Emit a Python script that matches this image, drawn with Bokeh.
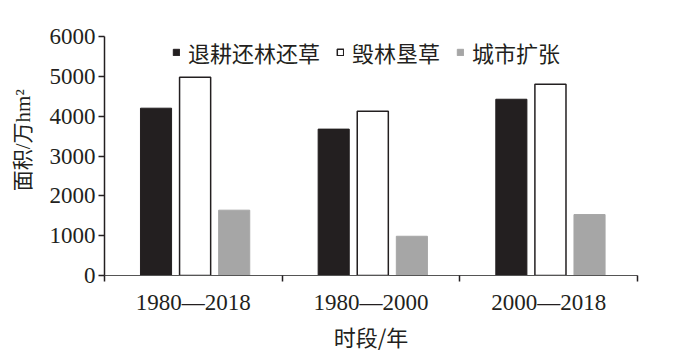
import numpy as np
from bokeh.plotting import figure
from bokeh.models import (ColumnDataSource, Range1d, FixedTicker, Legend, LegendItem)
from bokeh.transform import dodge
from bokeh.embed import file_html
from bokeh.resources import INLINE

# ---- data ----
periods = ["1980\u20142018", "1980\u20142000", "2000\u20142018"]
s_tuigeng = [4200, 3675, 4425]     # 退耕还林还草
s_huilin = [4980, 4125, 4800]      # 毁林垦草
s_chengshi = [1640, 985, 1530]     # 城市扩张
series_names = ["退耕还林还草", "毁林垦草", "城市扩张"]
y_ticks = [0, 1000, 2000, 3000, 4000, 5000, 6000]

x_pos = np.arange(len(periods)) + 0.5
src = ColumnDataSource(dict(x=x_pos, a=s_tuigeng, b=s_huilin, c=s_chengshi))

SERIF = "Liberation Serif, Noto Sans CJK SC"
CJK = "Noto Sans CJK SC"
INK = "#231f20"

W, H = 672, 358
FL, FR, FT, FB = 104, 637, 36, 275
p = figure(width=W, height=H, output_backend="svg", toolbar_location=None,
           x_range=Range1d(0, 3), y_range=Range1d(0, 6000),
           min_border_left=FL, min_border_right=W - FR,
           min_border_top=FT, min_border_bottom=H - FB)
p.outline_line_color = None
p.grid.visible = False
p.background_fill_color = "white"
p.border_fill_color = "white"

bw = 0.175
r1 = p.vbar(x=dodge("x", -0.21, range=p.x_range), top="a", width=bw, source=src,
            fill_color=INK, line_color=INK, line_width=1)
r2 = p.vbar(x=dodge("x", 0.01, range=p.x_range), top="b", width=bw, source=src,
            fill_color="white", line_color=INK, line_width=1.5)
r3 = p.vbar(x=dodge("x", 0.23, range=p.x_range), top="c", width=bw, source=src,
            fill_color="#a6a6a6", line_color="#a6a6a6", line_width=1)

# y axis
ya = p.yaxis[0]
ya.ticker = FixedTicker(ticks=y_ticks)
ya.minor_tick_line_color = None
ya.major_tick_in = 0
ya.major_tick_out = 6
ya.axis_line_color = INK
ya.axis_line_width = 1.5
ya.major_tick_line_color = INK
ya.major_tick_line_width = 1.5
ya.major_label_standoff = 3
ya.major_label_text_font = SERIF
ya.major_label_text_font_size = "23px"
ya.major_label_text_color = INK
ya.axis_label = "\u3000\u00a0\u00a0面积/万hm²"
ya.axis_label_text_font = SERIF
ya.axis_label_text_font_size = "21px"
ya.axis_label_text_font_style = "normal"
ya.axis_label_text_color = INK
ya.axis_label_standoff = 12

# x axis: labels at centers, ticks at boundaries
xa = p.xaxis[0]
xa.ticker = FixedTicker(ticks=list(x_pos), minor_ticks=list(np.arange(len(periods) + 1)))
xa.major_label_overrides = {float(x): lab for x, lab in zip(x_pos, periods)}
xa.major_tick_in = 0
xa.major_tick_out = 0
xa.minor_tick_in = 0
xa.minor_tick_out = 6
xa.minor_tick_line_color = INK
xa.minor_tick_line_width = 1.5
xa.axis_line_color = "#555555"
xa.axis_line_width = 1
xa.major_label_standoff = 8
xa.major_label_text_font = SERIF
xa.major_label_text_font_size = "23px"
xa.major_label_text_color = INK
xa.axis_label = "时段/年"
xa.axis_label_text_font = CJK
xa.axis_label_text_font_size = "22px"
xa.axis_label_text_font_style = "normal"
xa.axis_label_text_color = INK
xa.axis_label_standoff = 2

legend = Legend(items=[LegendItem(label=series_names[0], renderers=[r1]),
                       LegendItem(label=series_names[1], renderers=[r2]),
                       LegendItem(label=series_names[2], renderers=[r3])],
                orientation="horizontal", location=(68, 207),
                glyph_width=8, glyph_height=8, label_standoff=8, spacing=16,
                padding=0, margin=0, border_line_color=None,
                background_fill_alpha=0,
                label_text_font=CJK, label_text_font_size="22px",
                label_text_color=INK)
p.add_layout(legend)

open("out.html", "w").write(file_html(p, INLINE))
